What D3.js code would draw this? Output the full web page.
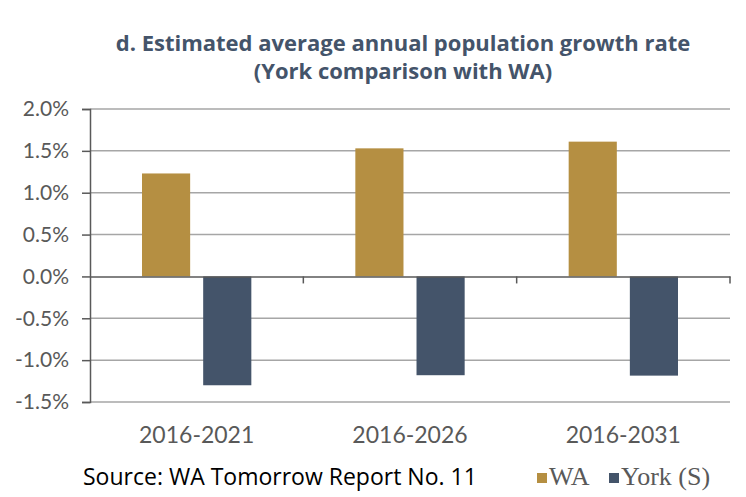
<!DOCTYPE html>
<html>
<head>
<meta charset="utf-8">
<script src="https://cdn.jsdelivr.net/npm/d3@7"></script>
<style>
  body { margin: 0; background: #fff; }
  svg { display: block; }
</style>
</head>
<body>
<div id="chart"></div>
<script>
// data
var categories = ["2016-2021", "2016-2026", "2016-2031"];
var seriesNames = ["WA", "York (S)"];
var waValues = [1.23, 1.53, 1.61];
var yorkValues = [-1.30, -1.18, -1.185];
var yTicks = [2.0, 1.5, 1.0, 0.5, 0.0, -0.5, -1.0, -1.5];
var colors = ["#b58f42", "#44546a"];

var w = 746, h = 497;
var plotLeft = 90, plotRight = 730, plotTop = 109, plotBottom = 402;

var svg = d3.select("#chart").append("svg")
    .attr("width", w)
    .attr("height", h);

var y = d3.scaleLinear().domain([-1.5, 2.0]).range([plotBottom, plotTop]);
var x0 = d3.scaleBand().domain(categories).range([plotLeft, plotRight]).padding(0);
var x1 = d3.scaleBand().domain(seriesNames).range([0, x0.bandwidth()])
    .paddingInner(0.213).paddingOuter(0.85);

// title
var titleLines = ["d. Estimated average annual population growth rate", "(York comparison with WA)"];
svg.append("g").selectAll("text")
    .data(titleLines)
    .enter().append("text")
    .attr("x", 403)
    .attr("y", function (d, i) { return 51 + i * 28; })
    .attr("text-anchor", "middle")
    .style("font-family", "'Open Sans', sans-serif")
    .style("font-weight", "bold")
    .style("font-size", "22px")
    .style("fill", "#44546a")
    .text(function (d) { return d; });

// gridlines
svg.append("g").selectAll("line")
    .data(yTicks.filter(function (d) { return d !== 0; }))
    .enter().append("line")
    .attr("x1", plotLeft).attr("x2", plotRight)
    .attr("y1", function (d) { return y(d); })
    .attr("y2", function (d) { return y(d); })
    .style("stroke", "#a6a6a6")
    .style("stroke-width", 1.5);

// y axis
var yAxis = d3.axisLeft(y)
    .tickValues(yTicks)
    .tickSize(8)
    .tickPadding(13)
    .tickFormat(function (d) { return d.toFixed(1) + "%"; });
var gy = svg.append("g").attr("transform", "translate(" + plotLeft + ",0)").call(yAxis);
gy.select(".domain").style("stroke", "#595959").style("stroke-width", 1.5);
gy.selectAll(".tick line").style("stroke", "#595959").style("stroke-width", 1.5);
gy.selectAll(".tick text")
    .style("font-family", "Lato, sans-serif")
    .style("font-size", "21px")
    .style("fill", "#595959");

// bars
var rows = categories.map(function (c, i) {
    return { cat: c, vals: [waValues[i], yorkValues[i]] };
});
var groups = svg.append("g").selectAll("g")
    .data(rows)
    .enter().append("g")
    .attr("transform", function (d) { return "translate(" + x0(d.cat) + ",0)"; });
groups.selectAll("rect")
    .data(function (d) { return d.vals.map(function (v, j) { return { s: seriesNames[j], v: v, j: j }; }); })
    .enter().append("rect")
    .attr("x", function (d) { return x1(d.s); })
    .attr("y", function (d) { return y(Math.max(0, d.v)); })
    .attr("width", x1.bandwidth())
    .attr("height", function (d) { return Math.abs(y(d.v) - y(0)); })
    .style("fill", function (d) { return colors[d.j]; });

// x axis on the zero line
var xAxis = d3.axisBottom(x0).tickSize(0).tickFormat("");
var gx = svg.append("g").attr("transform", "translate(0," + y(0) + ")").call(xAxis);
gx.select(".domain").style("stroke", "#595959").style("stroke-width", 1.5);
gx.selectAll(".sep")
    .data(categories)
    .enter().append("line")
    .attr("class", "sep")
    .attr("x1", function (d) { return x0(d) + x0.bandwidth(); })
    .attr("x2", function (d) { return x0(d) + x0.bandwidth(); })
    .attr("y1", 0).attr("y2", 7)
    .style("stroke", "#595959")
    .style("stroke-width", 1.5);

// category labels below the plot
svg.append("g").selectAll("text")
    .data(categories)
    .enter().append("text")
    .attr("x", function (d) { return x0(d) + x0.bandwidth() / 2; })
    .attr("y", 443)
    .attr("text-anchor", "middle")
    .style("font-family", "Lato, sans-serif")
    .style("font-size", "23px")
    .style("fill", "#595959")
    .text(function (d) { return d; });

// source
svg.append("text")
    .attr("x", 83).attr("y", 485)
    .style("font-family", "'Open Sans', sans-serif")
    .style("font-size", "23px")
    .style("fill", "#000")
    .text("Source: WA Tomorrow Report No. 11");

// legend
var legendX = [537, 609];
var lg = svg.append("g").selectAll("g")
    .data(seriesNames)
    .enter().append("g")
    .attr("transform", function (d, i) { return "translate(" + legendX[i] + ",0)"; });
lg.append("rect")
    .attr("x", 0).attr("y", 473)
    .attr("width", 10).attr("height", 10)
    .style("fill", function (d, i) { return colors[i]; });
lg.append("text")
    .attr("x", 12).attr("y", 485)
    .style("font-family", "'Liberation Serif', serif")
    .style("font-size", "26px")
    .style("fill", "#595959")
    .text(function (d) { return d; });
</script>
</body>
</html>
